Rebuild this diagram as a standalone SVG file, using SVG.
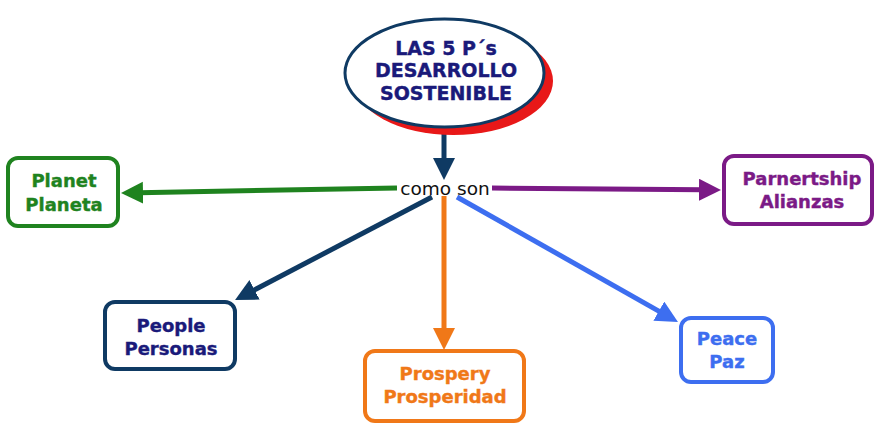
<svg xmlns="http://www.w3.org/2000/svg" width="875" height="424" viewBox="0 0 875 424">
<style>
.box{fill:#fff;stroke-width:4}
.t{font-family:"DejaVu Sans","Liberation Sans",sans-serif;font-weight:bold;font-size:18px;text-anchor:middle;stroke-width:0.4}
.c{fill:none;stroke-width:5}
</style>
<defs>
<marker id="mNavy" markerUnits="userSpaceOnUse" markerWidth="24" markerHeight="24" refX="4" refY="11" orient="auto"><path d="M0,0 L22,11 L0,22 z" fill="#0f3a63"/></marker>
<marker id="mGreen" markerUnits="userSpaceOnUse" markerWidth="24" markerHeight="24" refX="4" refY="11" orient="auto"><path d="M0,0 L22,11 L0,22 z" fill="#1f831f"/></marker>
<marker id="mPurple" markerUnits="userSpaceOnUse" markerWidth="24" markerHeight="24" refX="4" refY="11" orient="auto"><path d="M0,0 L22,11 L0,22 z" fill="#7b1a86"/></marker>
<marker id="mOrange" markerUnits="userSpaceOnUse" markerWidth="24" markerHeight="24" refX="4" refY="11" orient="auto"><path d="M0,0 L22,11 L0,22 z" fill="#f07818"/></marker>
<marker id="mBlue" markerUnits="userSpaceOnUse" markerWidth="24" markerHeight="24" refX="4" refY="11" orient="auto"><path d="M0,0 L22,11 L0,22 z" fill="#3d6ef0"/></marker>
</defs>
<rect width="875" height="424" fill="#fff"/>
<g id="connectors">
<line class="c" x1="444" y1="128" x2="444" y2="162" stroke="#0f3a63" stroke-width="6" marker-end="url(#mNavy)"/>
<line class="c" x1="397" y1="188" x2="139" y2="192.7" stroke="#1f831f" marker-end="url(#mGreen)"/>
<line class="c" x1="492" y1="188" x2="703" y2="189.8" stroke="#7b1a86" marker-end="url(#mPurple)"/>
<line class="c" x1="432" y1="197" x2="251" y2="291.7" stroke="#0f3a63" marker-end="url(#mNavy)"/>
<line class="c" x1="444" y1="196" x2="444" y2="332" stroke="#f07818" marker-end="url(#mOrange)"/>
<line class="c" x1="457" y1="197" x2="662.3" y2="313.1" stroke="#3d6ef0" marker-end="url(#mBlue)"/>
<text x="445" y="195" font-family="DejaVu Sans,Liberation Sans,sans-serif" font-size="18.5" text-anchor="middle" fill="#111">como son</text>
</g>
<g id="title">
<ellipse cx="453.5" cy="81" rx="99.5" ry="54" fill="#e81818"/>
<ellipse cx="444.5" cy="73" rx="99.5" ry="54" fill="#fff" stroke="#0f3a63" stroke-width="3"/>
<text class="t" fill="#1a1a7a" stroke="#1a1a7a" style="font-size:19px"><tspan x="446" y="55">LAS 5 P´s</tspan><tspan x="446" y="77">DESARROLLO</tspan><tspan x="446" y="100">SOSTENIBLE</tspan></text>
</g>
<g id="planet">
<rect class="box" x="8" y="158" width="110" height="68" rx="10" stroke="#1f831f"/>
<text class="t" fill="#1f831f" stroke="#1f831f"><tspan x="64" y="187">Planet</tspan><tspan x="64" y="211">Planeta</tspan></text>
</g>
<g id="partnership">
<rect class="box" x="724" y="156" width="148" height="68" rx="10" stroke="#7b1a86"/>
<text class="t" fill="#7b1a86" stroke="#7b1a86"><tspan x="802" y="185">Parnertship</tspan><tspan x="802" y="208">Alianzas</tspan></text>
</g>
<g id="people">
<rect class="box" x="105" y="302" width="130" height="67" rx="10" stroke="#0f3a63"/>
<text class="t" fill="#1a1a7a" stroke="#1a1a7a"><tspan x="171" y="332">People</tspan><tspan x="171" y="355">Personas</tspan></text>
</g>
<g id="prospery">
<rect class="box" x="365" y="351" width="159" height="70" rx="10" stroke="#f07818"/>
<text class="t" fill="#f07818" stroke="#f07818"><tspan x="445" y="380">Prospery</tspan><tspan x="445" y="403">Prosperidad</tspan></text>
</g>
<g id="peace">
<rect class="box" x="681" y="318" width="92" height="64" rx="10" stroke="#3d6ef0"/>
<text class="t" fill="#3d6ef0" stroke="#3d6ef0"><tspan x="727" y="345">Peace</tspan><tspan x="727" y="368">Paz</tspan></text>
</g>
</svg>
